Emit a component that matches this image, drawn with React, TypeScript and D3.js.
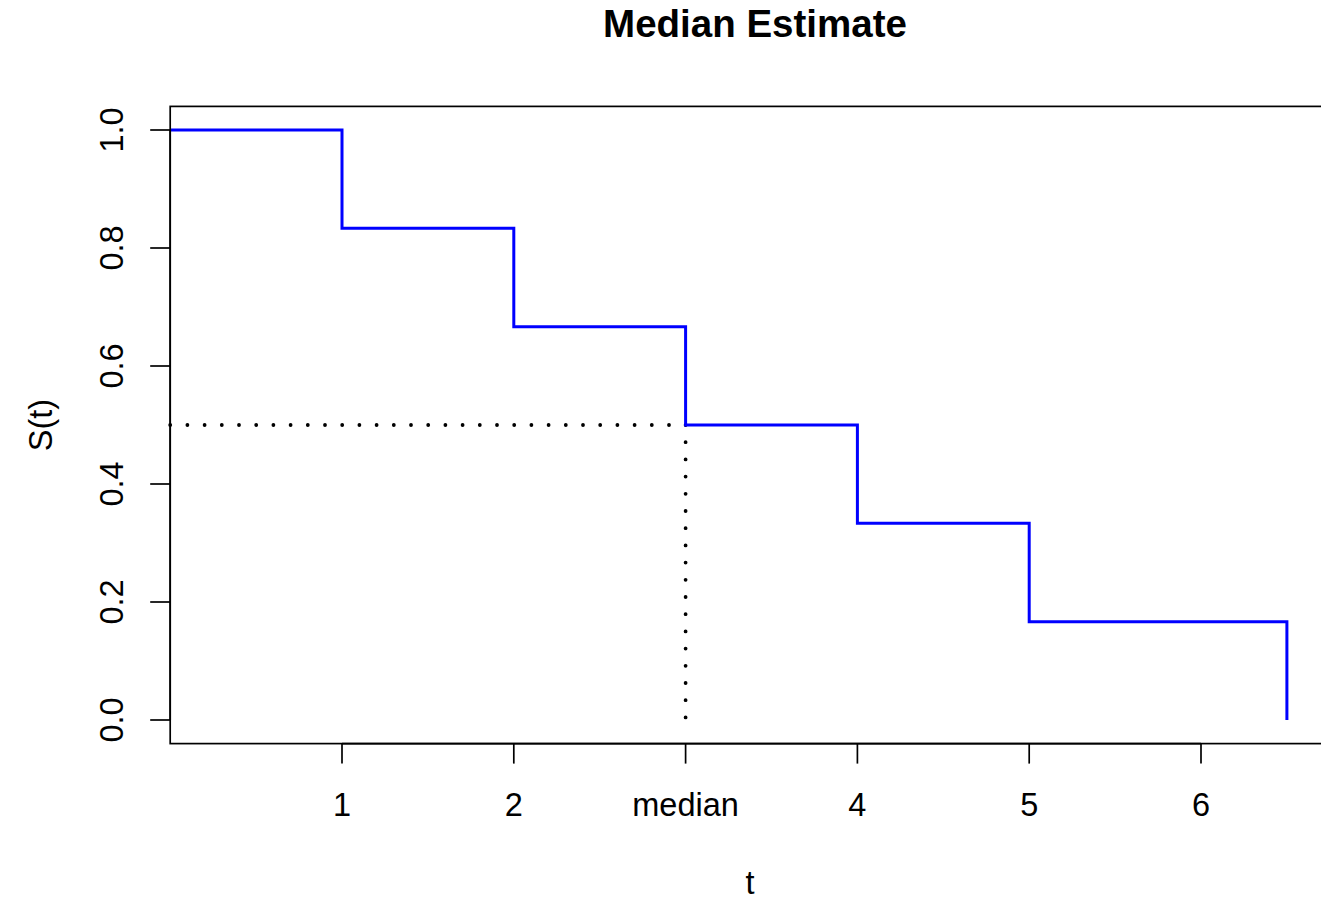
import React from "react";
import * as d3 from "d3";

const times = [0, 1, 2, 3, 4, 5, 6.5];
const survival = [1, 5 / 6, 4 / 6, 3 / 6, 2 / 6, 1 / 6, 0];
const xTickValues = [1, 2, 3, 4, 5, 6];
const xTickLabels = ["1", "2", "median", "4", "5", "6"];
const yTickValues = [0, 0.2, 0.4, 0.6, 0.8, 1.0];
const yTickLabels = ["0.0", "0.2", "0.4", "0.6", "0.8", "1.0"];
const medianTime = 3;
const medianS = 0.5;
const title = "Median Estimate";
const xLabel = "t";
const yLabel = "S(t)";

const W = 1321;
const H = 900;
const FONT = "'Liberation Sans', Arial, Helvetica, sans-serif";
const LABEL_SIZE = 32.5;

export default function App() {
  const x = d3.scaleLinear().domain([0, 7]).range([170.2, 170.2 + 7 * 171.8]);
  const y = d3.scaleLinear().domain([-0.04, 1.04]).range([743.6, 106.4]);

  const pts: [number, number][] = [];
  for (let i = 0; i < times.length - 1; i++) {
    pts.push([times[i], survival[i]]);
    pts.push([times[i + 1], survival[i]]);
  }
  pts.push([times[times.length - 1], survival[survival.length - 1]]);
  const line = d3
    .line<[number, number]>()
    .x((d) => x(d[0]))
    .y((d) => y(d[1]));

  const boxLeft = x(0);
  const boxRight = 1345;
  const boxTop = y(1.04);
  const boxBottom = y(-0.04);

  return (
    <svg
      width={W}
      height={H}
      style={{ position: "absolute", left: 0, top: 0, background: "#fff" }}
      fontFamily={FONT}
    >
      <rect x={0} y={0} width={W} height={H} fill="#fff" />
      <text x={755} y={37} textAnchor="middle" fontSize={38.5} fontWeight="bold" fill="#000">
        {title}
      </text>

      {/* median dotted lines */}
      <line
        x1={x(0)}
        y1={y(medianS)}
        x2={x(medianTime)}
        y2={y(medianS)}
        stroke="#000"
        strokeWidth={3.8}
        strokeLinecap="round"
        strokeDasharray="0 17.2"
      />
      <line
        x1={x(medianTime)}
        y1={y(medianS)}
        x2={x(medianTime)}
        y2={y(0)}
        stroke="#000"
        strokeWidth={3.8}
        strokeLinecap="round"
        strokeDasharray="0 17.2"
      />

      {/* step curve */}
      <path d={line(pts) || ""} fill="none" stroke="#0000FF" strokeWidth={3} strokeLinejoin="miter" />

      {/* box */}
      <rect
        x={boxLeft}
        y={boxTop}
        width={boxRight - boxLeft}
        height={boxBottom - boxTop}
        fill="none"
        stroke="#000"
        strokeWidth={1.7}
      />

      {/* x axis */}
      <line
        x1={x(xTickValues[0])}
        x2={x(xTickValues[xTickValues.length - 1])}
        y1={boxBottom}
        y2={boxBottom}
        stroke="#000"
        strokeWidth={1.7}
      />
      {xTickValues.map((v, i) => (
        <g key={"xt" + i}>
          <line x1={x(v)} x2={x(v)} y1={boxBottom} y2={boxBottom + 20} stroke="#000" strokeWidth={1.7} />
          <text x={x(v)} y={816} textAnchor="middle" fontSize={LABEL_SIZE} fill="#000">
            {xTickLabels[i]}
          </text>
        </g>
      ))}
      <text x={750} y={894} textAnchor="middle" fontSize={LABEL_SIZE} fill="#000">
        {xLabel}
      </text>

      {/* y axis */}
      <line x1={boxLeft} x2={boxLeft} y1={y(0)} y2={y(1)} stroke="#000" strokeWidth={1.7} />
      {yTickValues.map((v, i) => (
        <g key={"yt" + i}>
          <line x1={boxLeft - 20} x2={boxLeft} y1={y(v)} y2={y(v)} stroke="#000" strokeWidth={1.7} />
          <text
            transform={`translate(123,${y(v)}) rotate(-90)`}
            textAnchor="middle"
            fontSize={LABEL_SIZE}
            fill="#000"
          >
            {yTickLabels[i]}
          </text>
        </g>
      ))}
      <text
        transform={`translate(52,${(boxTop + boxBottom) / 2}) rotate(-90)`}
        textAnchor="middle"
        fontSize={LABEL_SIZE}
        fill="#000"
      >
        {yLabel}
      </text>
    </svg>
  );
}
